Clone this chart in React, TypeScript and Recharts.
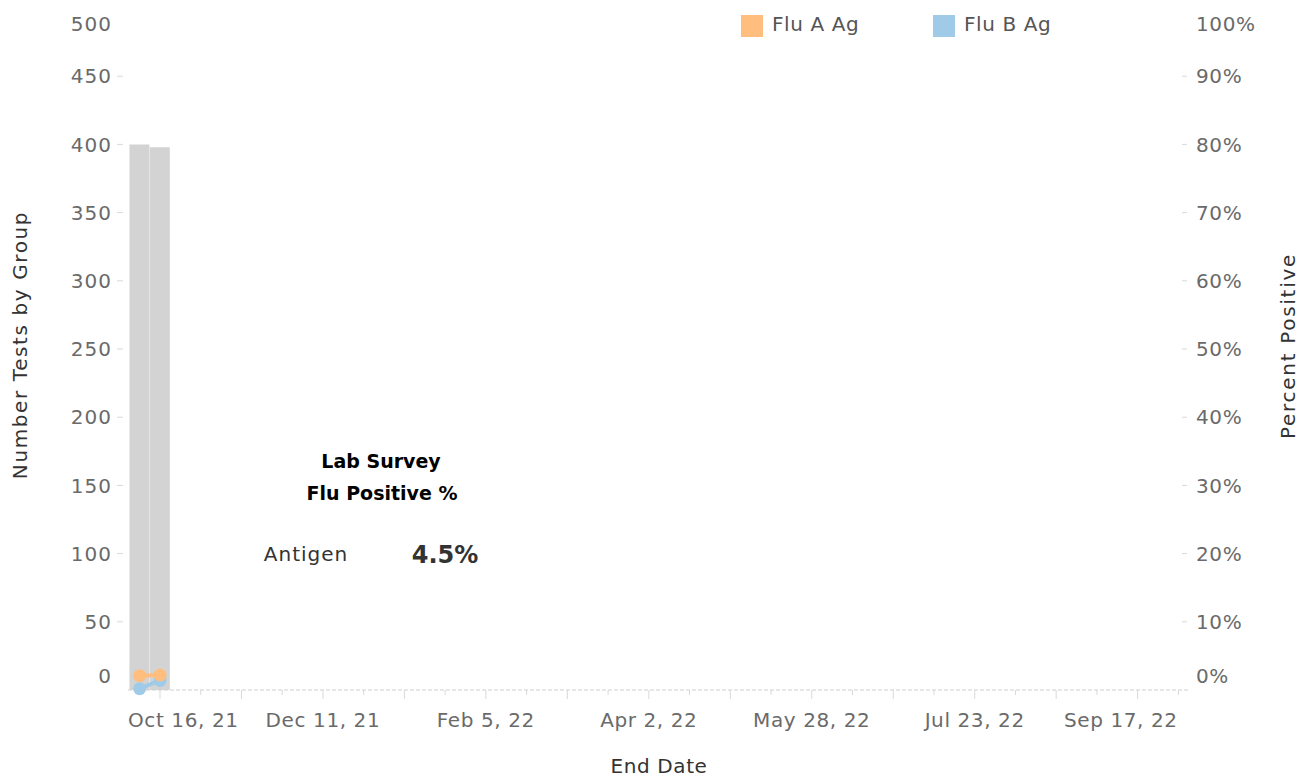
import { ComposedChart, Bar, Line, XAxis, YAxis, ReferenceLine } from "recharts";

const DAY = 86400000;
const FONT = "'DejaVu Sans', sans-serif";

// weekly lab survey points (week ending)
const WEEK_ENDING = ["2021-10-09", "2021-10-16"];
const TESTS_BY_GROUP = [400, 398];
const FLU_A_AG = [2.1, 2.2];
const FLU_B_AG = [0.2, 1.4];

const X_START = "2021-10-05";
const X_END = "2022-10-05";
const FIRST_TICK = "2021-10-16";
const LABELED_TICKS = ["2021-10-16", "2021-12-11", "2022-02-05", "2022-04-02", "2022-05-28", "2022-07-23", "2022-09-17"];
const TICK_LABELS = ["Oct 16, 21", "Dec 11, 21", "Feb 5, 22", "Apr 2, 22", "May 28, 22", "Jul 23, 22", "Sep 17, 22"];
const LEFT_TICKS = [0, 50, 100, 150, 200, 250, 300, 350, 400, 450, 500];
const RIGHT_TICKS = [0, 10, 20, 30, 40, 50, 60, 70, 80, 90, 100];

const ts = (d: string) => Date.parse(d + "T00:00:00Z");

const data = WEEK_ENDING.map((d, i) => ({
  t: ts(d),
  tests: TESTS_BY_GROUP[i],
  fluA: FLU_A_AG[i],
  fluB: FLU_B_AG[i],
}));

// a tick every two weeks, long every four
const xTicks: number[] = [];
for (let t = ts(FIRST_TICK); t <= ts(X_END); t += 14 * DAY) xTicks.push(t);

const labelFor = new Map(LABELED_TICKS.map((d, i) => [ts(d), TICK_LABELS[i]]));

function DateTick(props: any) {
  const { x, y, payload } = props;
  const t = payload.value as number;
  const days = Math.round((t - ts(FIRST_TICK)) / DAY);
  const long = days % 28 === 0;
  const label = labelFor.get(t);
  let anchor = "middle";
  let lx = x;
  if (label && t === ts(LABELED_TICKS[0])) {
    anchor = "start";
    lx = x - 32;
  } else if (label && t === ts(LABELED_TICKS[LABELED_TICKS.length - 1])) {
    anchor = "end";
    lx = x + 40;
  }
  return (
    <g>
      <line x1={x} x2={x} y1={y} y2={y + (long ? 9 : 5)} stroke="#d9d9d9" />
      {label && (
        <text x={lx} y={y + 37} textAnchor={anchor} fill="#6a6a6a" fontSize={20} fontFamily={FONT} letterSpacing={0.6}>
          {label}
        </text>
      )}
    </g>
  );
}

function LeftTick(props: any) {
  const { x, y, payload } = props;
  const v = payload.value as number;
  const dy = v === 500 ? 16 : v === 0 ? -14 : 0;
  return (
    <g>
      {v !== 0 && v !== 500 && <line x1={x - 11} x2={x - 5} y1={y} y2={y} stroke="#d9d9d9" />}
      <text x={x - 16} y={y + dy} dy="0.36em" textAnchor="end" fill="#6a6a6a" fontSize={20} fontFamily={FONT} letterSpacing={1}>
        {v}
      </text>
    </g>
  );
}

function RightTick(props: any) {
  const { x, y, payload } = props;
  const v = payload.value as number;
  const dy = v === 100 ? 16 : v === 0 ? -14 : 0;
  return (
    <g>
      {v !== 0 && v !== 100 && <line x1={x - 8} x2={x - 3} y1={y} y2={y} stroke="#d9d9d9" />}
      <text x={x + 6} y={y + dy} dy="0.36em" textAnchor="start" fill="#6a6a6a" fontSize={20} fontFamily={FONT} letterSpacing={0.6}>
        {v}%
      </text>
    </g>
  );
}

const abs = (x: number, y: number, extra: any = {}) => ({
  position: "absolute" as const,
  left: x,
  top: y,
  transform: "translate(-50%, -50%)",
  whiteSpace: "nowrap" as const,
  fontFamily: FONT,
  ...extra,
});

export default function App() {
  return (
    <div style={{ position: "absolute", left: 0, top: 0, width: 1306, height: 779, background: "#fff" }}>
      <ComposedChart
        width={1306}
        height={779}
        data={data}
        margin={{ top: 8, right: 0, bottom: 0, left: 0 }}
        barCategoryGap={0}
        barGap={0}
      >
        <XAxis
          dataKey="t"
          type="number"
          domain={[ts(X_START), ts(X_END)]}
          ticks={xTicks}
          interval={0}
          height={89}
          axisLine={false}
          tickLine={false}
          tickSize={0}
          tickMargin={0}
          tick={<DateTick />}
        />
        <YAxis
          yAxisId="left"
          domain={[0, 500]}
          ticks={LEFT_TICKS}
          interval={0}
          width={128}
          axisLine={false}
          tickLine={false}
          tickSize={0}
          tickMargin={0}
          tick={<LeftTick />}
        />
        <YAxis
          yAxisId="right"
          orientation="right"
          domain={[0, 100]}
          ticks={RIGHT_TICKS}
          interval={0}
          width={116}
          axisLine={false}
          tickLine={false}
          tickSize={0}
          tickMargin={0}
          tick={<RightTick />}
        />
        <ReferenceLine yAxisId="left" y={0} stroke="#cfcfcf" strokeDasharray="4 2" />
        <Bar yAxisId="left" dataKey="tests" fill="#d3d3d3" isAnimationActive={false} />
        <Line
          yAxisId="right"
          dataKey="fluB"
          stroke="#a0cbe8"
          strokeWidth={4}
          dot={{ r: 6.5, fill: "#a0cbe8", stroke: "none" }}
          activeDot={false}
          isAnimationActive={false}
        />
        <Line
          yAxisId="right"
          dataKey="fluA"
          stroke="#ffbe7d"
          strokeWidth={4}
          dot={{ r: 6.5, fill: "#ffbe7d", stroke: "none" }}
          activeDot={false}
          isAnimationActive={false}
        />
      </ComposedChart>

      {/* legend */}
      <div style={{ position: "absolute", left: 741, top: 15, width: 22, height: 22, background: "#ffbe7d" }} />
      <div style={{ position: "absolute", left: 772, top: 12, fontFamily: FONT, fontSize: 20, color: "#555", letterSpacing: 0.6 }}>
        Flu A Ag
      </div>
      <div style={{ position: "absolute", left: 933, top: 15, width: 22, height: 22, background: "#a0cbe8" }} />
      <div style={{ position: "absolute", left: 964, top: 12, fontFamily: FONT, fontSize: 20, color: "#555", letterSpacing: 0.6 }}>
        Flu B Ag
      </div>

      {/* axis titles */}
      <div style={abs(20, 345, { transform: "translate(-50%, -50%) rotate(-90deg)", fontSize: 20, color: "#333", letterSpacing: 1.6 })}>
        Number Tests by Group
      </div>
      <div style={abs(1288, 346, { transform: "translate(-50%, -50%) rotate(-90deg)", fontSize: 20, color: "#333", letterSpacing: 1.7 })}>
        Percent Positive
      </div>
      <div style={abs(659, 766, { fontSize: 20, color: "#333", letterSpacing: 0.6 })}>End Date</div>

      {/* annotation */}
      <div style={abs(381, 461, { fontSize: 19, fontWeight: "bold", color: "#000" })}>Lab Survey</div>
      <div style={abs(382, 493, { fontSize: 19, fontWeight: "bold", color: "#000" })}>Flu Positive %</div>
      <div style={abs(306, 554, { fontSize: 20, color: "#333", letterSpacing: 1 })}>Antigen</div>
      <div style={abs(445, 555, { fontSize: 24, fontWeight: "bold", color: "#333" })}>4.5%</div>
    </div>
  );
}
